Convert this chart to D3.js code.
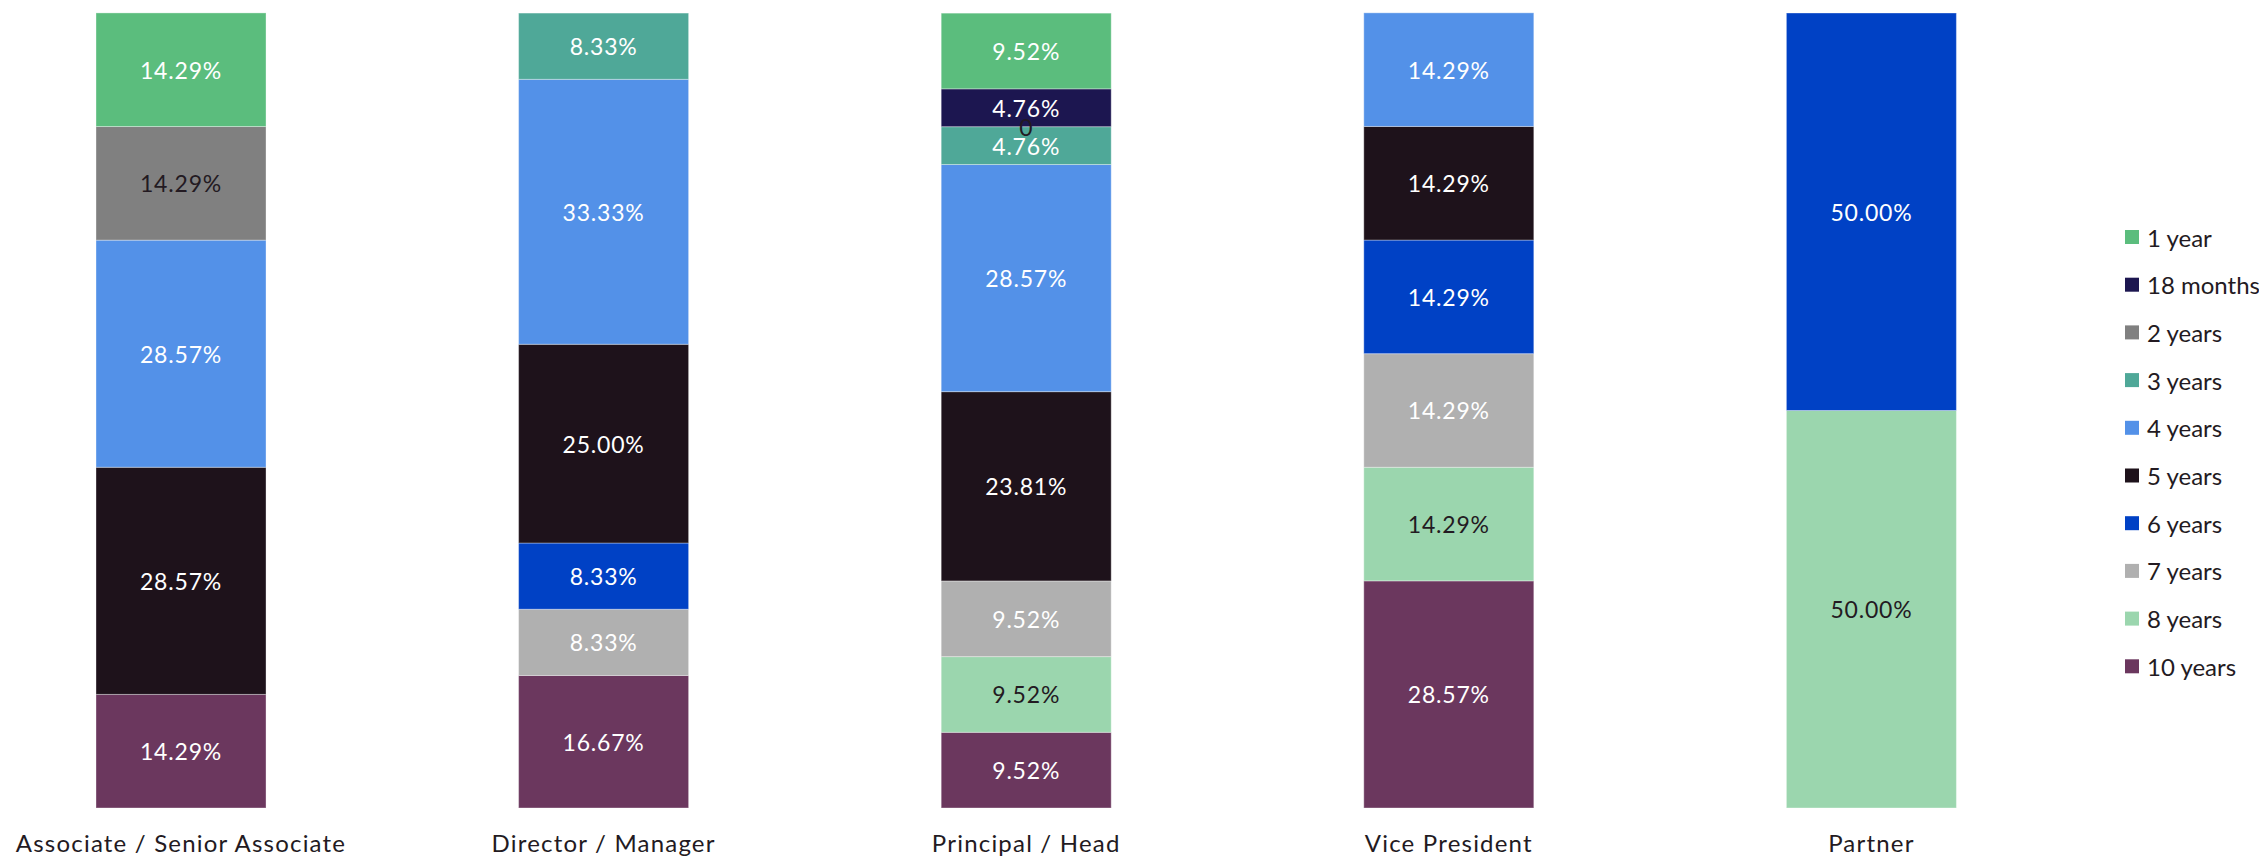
<!DOCTYPE html>
<html>
<head>
<meta charset="utf-8">
<script src="https://cdn.jsdelivr.net/npm/d3@7"></script>
<style>
  html, body { margin: 0; padding: 0; background: #ffffff; }
  svg { display: block; }
  text { font-family: Lato, "Open Sans", sans-serif; }
</style>
</head>
<body>
<svg id="chart" width="2259" height="857"></svg>
<script>
// ---- data ----
const categories = ["Associate / Senior Associate", "Director / Manager", "Principal / Head", "Vice President", "Partner"];
const seriesNames = ["1 year", "18 months", "2 years", "3 years", "4 years", "5 years", "6 years", "7 years", "8 years", "10 years"];
const seriesColors = ["#5BBD7D", "#1C1650", "#808080", "#4FA898", "#5391E8", "#1E121B", "#0041C5", "#B0B0B0", "#9BD6AE", "#6B375E"];
const labelColors  = ["#ffffff", "#ffffff", "#231a22", "#ffffff", "#ffffff", "#ffffff", "#ffffff", "#ffffff", "#231a22", "#ffffff"];
// values per series, one per category (null = no segment)
const v1year    = [14.29, null,  9.52,  null,  null];
const v18months = [null,  null,  4.76,  null,  null];
const v2years   = [14.29, null,  0,     null,  null];
const v3years   = [null,  8.33,  4.76,  null,  null];
const v4years   = [28.57, 33.33, 28.57, 14.29, null];
const v5years   = [28.57, 25.00, 23.81, 14.29, null];
const v6years   = [null,  8.33,  null,  14.29, 50.00];
const v7years   = [null,  8.33,  9.52,  14.29, null];
const v8years   = [null,  null,  9.52,  14.29, 50.00];
const v10years  = [14.29, 16.67, 9.52,  28.57, null];
const seriesValues = [v1year, v18months, v2years, v3years, v4years, v5years, v6years, v7years, v8years, v10years];

// ---- layout ----
const svg = d3.select("#chart");
const plotTop = 13, plotBottom = 808;

const x = d3.scaleBand()
  .domain(categories)
  .range([96, 1956.4])
  .paddingInner(0.5977)
  .paddingOuter(0);

const y = d3.scaleLinear().domain([0, 100]).range([plotBottom, plotTop]);

// build table for stacking: bottom is last series (10 years)
const table = categories.map((c, ci) => {
  const row = { category: c };
  seriesNames.forEach((s, si) => { row[s] = seriesValues[si][ci] == null ? 0 : seriesValues[si][ci]; });
  return row;
});
const stackOrder = seriesNames.slice().reverse();
const stacked = d3.stack().keys(stackOrder)(table);

const g = svg.append("g");
stacked.forEach(layer => {
  const si = seriesNames.indexOf(layer.key);
  const lg = g.append("g");
  layer.forEach((d, ci) => {
    const raw = seriesValues[si][ci];
    if (raw == null) return;
    const y0 = y(d[0]), y1 = y(d[1]);
    if (raw > 0) {
      lg.append("rect")
        .attr("x", x(categories[ci]))
        .attr("y", y1)
        .attr("width", x.bandwidth())
        .attr("height", Math.max(0, y0 - y1))
        .attr("fill", seriesColors[si])
        .attr("stroke", "rgba(255,255,255,0.35)")
        .attr("stroke-width", 1);
    }
  });
});

// labels
stacked.forEach(layer => {
  const si = seriesNames.indexOf(layer.key);
  layer.forEach((d, ci) => {
    const raw = seriesValues[si][ci];
    if (raw == null) return;
    const cy = (y(d[0]) + y(d[1])) / 2;
    const txt = raw === 0 ? "0" : d3.format(".2f")(raw) + "%";
    g.append("text")
      .attr("x", x(categories[ci]) + x.bandwidth() / 2)
      .attr("y", cy)
      .attr("text-anchor", "middle")
      .attr("dominant-baseline", "central")
      .attr("font-size", 23)
      .attr("letter-spacing", 0.8)
      .attr("fill", raw === 0 ? "#231a22" : labelColors[si])
      .text(txt);
  });
});

// x axis labels
const xAxis = d3.axisBottom(x).tickSize(0).tickPadding(0);
const ax = svg.append("g").attr("transform", `translate(0, 852)`).call(xAxis);
ax.select(".domain").remove();
ax.selectAll("text")
  .attr("font-size", 24)
  .attr("letter-spacing", 1.2)
  .attr("fill", "#231a22")
  .attr("dy", 0)
  .attr("y", 0)
  .style("font-family", "Lato, 'Open Sans', sans-serif");

// legend
const legend = svg.append("g");
seriesNames.forEach((s, i) => {
  const cy = 237 + i * 47.7;
  legend.append("rect")
    .attr("x", 2125).attr("y", cy - 7)
    .attr("width", 14).attr("height", 14)
    .attr("fill", seriesColors[i]);
  legend.append("text")
    .attr("x", 2147).attr("y", cy)
    .attr("dominant-baseline", "central")
    .attr("font-size", 24)
    .attr("fill", "#231a22")
    .text(s);
});
</script>
</body>
</html>
